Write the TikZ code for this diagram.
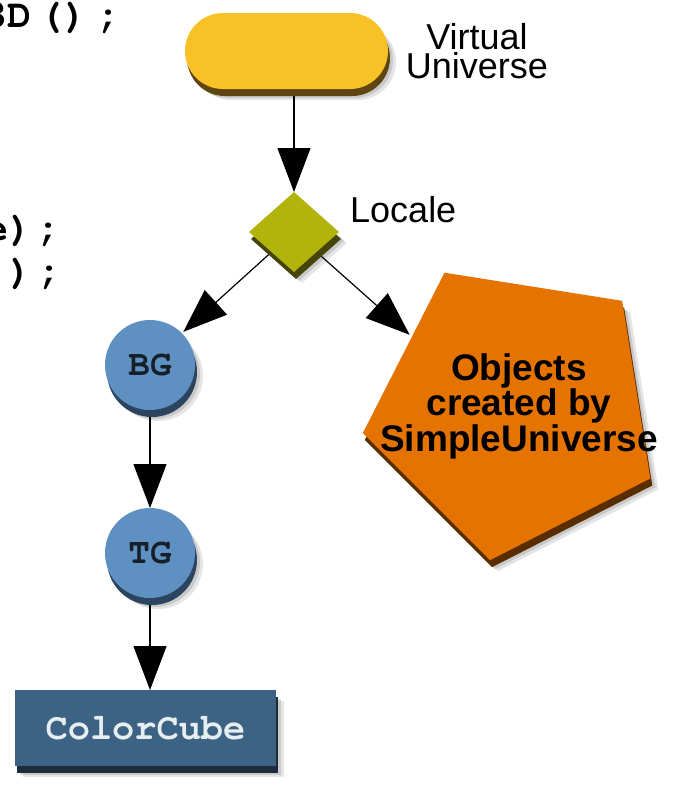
\documentclass[tikz,border=0pt]{standalone}
\usepackage[T1]{fontenc}
\usepackage{fontspec}
\setmainfont{Liberation Sans}
\usetikzlibrary{shapes.geometric,shapes.misc,arrows.meta,calc}
\pgfdeclarelayer{back}
\pgfsetlayers{back,main}

% Courier bold for code
\newcommand{\courierbold}{\fontencoding{T1}\fontfamily{pcr}\fontseries{b}\selectfont}

\definecolor{pillface}{HTML}{F8C126}
\definecolor{pillrim}{HTML}{5E4512}
\definecolor{locface}{HTML}{B2B40C}
\definecolor{locrim}{HTML}{45450A}
\definecolor{grpface}{HTML}{5F90C2}
\definecolor{grprim}{HTML}{2B4560}
\definecolor{cubeface}{HTML}{3D6384}
\definecolor{cuberim}{HTML}{1C2C3A}
\definecolor{objface}{HTML}{E57300}
\definecolor{objrim}{HTML}{5A2D00}
\definecolor{grptext}{HTML}{16202B}
\definecolor{cubetext}{HTML}{E6EEF2}

\tikzset{
  % raised face: soft drop shadow, dark rim below-right, flat face on top
  bevel/.style 2 args={
    fill=#1, inner sep=0pt, outer sep=0pt,
    preaction={fill=black, opacity=0.10, transform canvas={shift={(8pt,-11pt)}}},
    preaction={fill=black, opacity=0.12, transform canvas={shift={(5pt,-9pt)}}},
    preaction={fill=#2, transform canvas={shift={(2pt,-7pt)}}}},
  link/.style={line width=1.2pt, -{Triangle[length=44pt,width=33pt]}},
  caption/.style={font=\fontsize{36}{29}\selectfont, inner sep=0pt, align=center},
  codeline/.style={font=\courierbold\fontsize{40}{40}\selectfont, inner sep=0pt, anchor=base west},
  grouplabel/.style={font=\courierbold\fontsize{36}{36}\selectfont, text=grptext},
}

\begin{document}
\begin{tikzpicture}[x=1pt,y=-1pt]
\useasboundingbox (0,0) rectangle (673,785);
\clip (0,0) rectangle (673,785);

% fragments of the source code
\node[codeline] (code1) at (-17,27) {3D\hspace{8pt}()\hspace{10pt};};
\node[codeline] (code2) at (-16,240) {e)\hspace{5pt};};
\node[codeline] (code3) at (8,283) {)\hspace{6pt};};

% scene graph nodes
\node[rounded rectangle, minimum width=203pt, minimum height=76pt,
      bevel={pillface}{pillrim}] (vu) at (286.5,51) {};
\node[caption] (vulabel) at (477,51) {Virtual\\Universe};

\node[diamond, minimum width=90pt, minimum height=80pt,
      bevel={locface}{locrim}] (loc) at (294,232) {};
\node[caption, anchor=base west] (loclabel) at (350,222) {Locale};

\node[circle, minimum size=90pt, bevel={grpface}{grprim}, grouplabel] (bg) at (150,365) {BG};
\node[circle, minimum size=90pt, bevel={grpface}{grprim}, grouplabel] (tg) at (150,553) {TG};

\node[rectangle, minimum width=261pt, minimum height=76pt,
      bevel={cubeface}{cuberim},
      font=\courierbold\fontsize{37}{37}\selectfont, text=cubetext] (cc) at (145.5,728) {ColorCube};

\node[regular polygon, regular polygon sides=5, shape border rotate=27,
      minimum size=306pt, bevel={objface}{objrim}] (obj) at (514,409) {};
\node[caption, font=\bfseries\fontsize{37}{30}\selectfont] (objlabel) at (519,406)
      {Objects\\created by\\SimpleUniverse};

% connectors, kept behind the nodes
\begin{pgfonlayer}{back}
  \draw[link] (vu.south -| loc.north) -- (loc.north);
  \draw[link, shorten >=2pt] (loc.south west) -- (bg.north east);
  \draw[link, shorten >=3pt] (loc.south east) -- ($(obj.corner 1)!0.40!(obj.corner 2)$);
  \draw[link] (bg.south) -- (tg.north);
  \draw[link] (tg.south) -- (tg.south |- cc.north);
\end{pgfonlayer}
\end{tikzpicture}
\end{document}
